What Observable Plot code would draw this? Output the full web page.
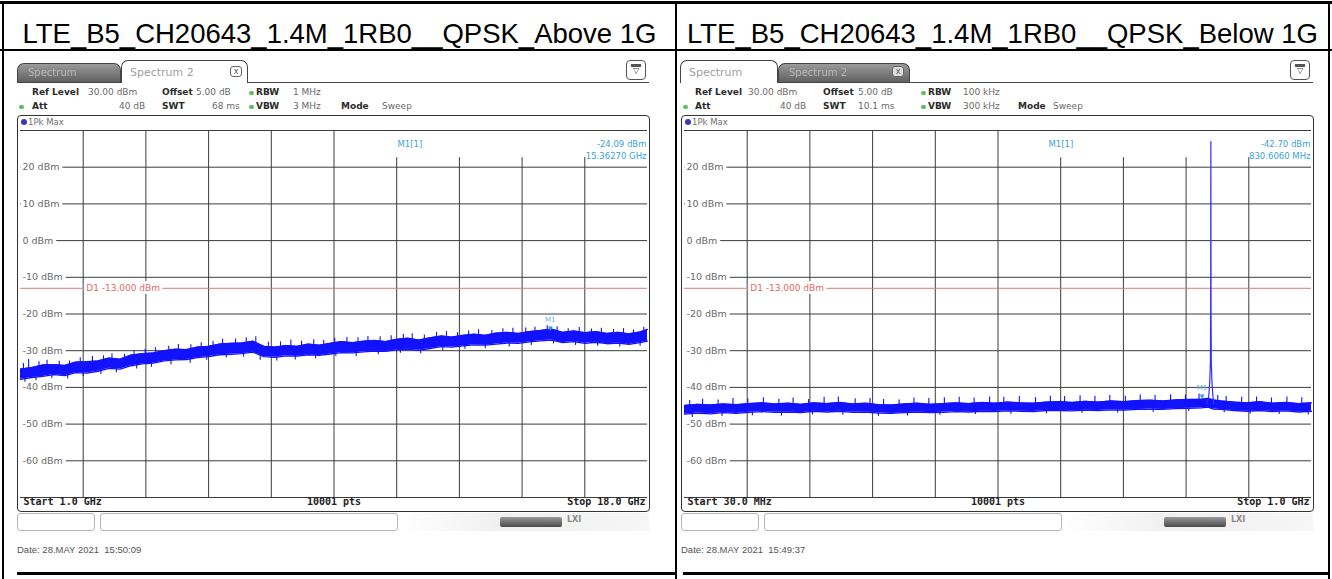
<!DOCTYPE html>
<html><head><meta charset="utf-8">
<script src="https://cdn.jsdelivr.net/npm/d3@7"></script>
<script src="https://cdn.jsdelivr.net/npm/@observablehq/plot@0.6"></script>
<style>
body{margin:0;background:#fff;}
#root{position:relative;width:1332px;height:579px;overflow:hidden;font-family:"DejaVu Sans",sans-serif;}
.a{position:absolute;white-space:nowrap;}
.title{position:absolute;top:16px;height:36px;line-height:36px;font-family:"Liberation Sans",Arial,sans-serif;font-size:27.5px;color:#000;text-align:center;white-space:nowrap;}
.info{font-size:9px;line-height:11px;color:#6a6a6a;white-space:nowrap;}
.info b{color:#2a2a2a;}
</style></head>
<body><div id="root"></div>
<script>
// ---- chart texts ----
const titles = ["LTE_B5_CH20643_1.4M_1RB0__QPSK_Above 1G", "LTE_B5_CH20643_1.4M_1RB0__QPSK_Below 1G"];
const dates = ["Date: 28.MAY 2021\u00a0\u00a015:50:09", "Date: 28.MAY 2021\u00a0\u00a015:49:37"];
const yTicks = [20, 10, 0, -10, -20, -30, -40, -50, -60];
const yGridLevels = [30, 20, 10, 0, -10, -20, -30, -40, -50, -60, -70];
const d1Level = -13;

// ---- left: Above 1G (GHz) ----
const leftDomain = [1.0, 18.0];
const leftXGrid = [2.7, 4.4, 6.1, 7.8, 9.5, 11.2, 12.9, 14.6, 16.3];
const leftAxisLabels = ["Start 1.0 GHz", "10001 pts", "Stop 18.0 GHz"];
const leftSettings = [["Ref Level","30.00 dBm","Offset","5.00 dB","RBW","1 MHz"],["Att","40 dB","SWT","68 ms","VBW","3 MHz","Mode","Sweep"]];
const leftFreq = [1.0,1.3,1.6,1.9,2.2,2.5,2.8,3.1,3.4,3.7,4.0,4.3,4.6,4.9,5.2,5.5,5.8,6.1,6.4,6.7,7.0,7.3,7.6,7.9,8.2,8.5,8.8,9.1,9.4,9.7,10.0,10.3,10.6,10.9,11.2,11.5,11.8,12.1,12.4,12.7,13.0,13.3,13.6,13.9,14.2,14.5,14.8,15.1,15.4,15.7,16.0,16.3,16.6,16.9,17.2,17.5,17.8,18.0];
const leftHi = [-35.0,-34.6,-33.9,-33.8,-34.0,-33.1,-33.0,-32.8,-32.0,-32.3,-31.2,-30.8,-30.6,-30.0,-29.6,-29.7,-29.0,-28.8,-28.2,-28.0,-27.9,-27.4,-28.8,-29.0,-28.6,-28.8,-28.2,-28.5,-28.0,-27.5,-27.8,-27.4,-27.2,-27.5,-26.9,-26.6,-27.1,-26.5,-26.0,-26.3,-25.8,-25.5,-25.8,-25.2,-25.0,-25.3,-24.8,-24.5,-24.1,-25.0,-24.6,-25.1,-24.8,-25.3,-25.0,-25.4,-24.9,-24.2];
const leftLo = [-37.8,-37.3,-37.0,-36.5,-36.8,-36.0,-36.1,-35.6,-34.8,-35.0,-34.1,-33.6,-33.4,-32.8,-32.5,-32.4,-31.9,-31.6,-31.1,-31.0,-30.8,-30.4,-31.6,-31.8,-31.4,-31.5,-31.1,-31.3,-30.9,-30.5,-30.6,-30.3,-30.1,-30.2,-29.8,-29.6,-29.9,-29.4,-28.9,-29.0,-28.7,-28.4,-28.5,-28.2,-27.9,-28.0,-27.6,-27.3,-27.1,-27.8,-27.5,-28.0,-27.7,-28.1,-27.9,-28.3,-27.8,-27.4];
const leftPeaks = [[1.08,-33.5],[1.22,-32.4],[1.5,-33.0],[1.72,-32.6],[2.05,-32.9],[2.33,-32.8],[2.62,-31.9],[2.95,-31.6],[3.25,-31.4],[3.48,-30.8],[3.82,-31.0],[4.08,-30.0],[4.38,-29.6],[4.66,-29.2],[5.02,-28.8],[5.28,-28.3],[5.62,-28.4],[5.9,-27.8],[6.22,-27.5],[6.48,-26.9],[6.83,-26.8],[7.12,-26.5],[7.38,-26.2],[7.72,-27.7],[8.05,-27.6],[8.33,-27.1],[8.62,-27.4],[8.95,-27.0],[9.22,-27.2],[9.52,-26.6],[9.85,-26.4],[10.15,-26.5],[10.42,-26.1],[10.75,-26.2],[11.05,-25.9],[11.38,-25.6],[11.62,-25.4],[11.95,-25.7],[12.28,-25.0],[12.55,-24.8],[12.85,-25.1],[13.15,-24.6],[13.42,-24.3],[13.78,-24.5],[14.08,-24.0],[14.35,-23.9],[14.7,-23.8],[14.95,-23.6],[15.28,-23.2],[15.55,-23.5],[15.85,-24.0],[16.15,-23.7],[16.48,-24.1],[16.75,-23.9],[17.08,-24.2],[17.35,-24.0],[17.62,-24.3],[17.9,-23.6]];
const leftDips = [[1.12,-38.6],[1.42,-38.2],[1.85,-37.6],[2.28,-37.7],[2.7,-37.0],[3.18,-36.5],[3.6,-36.0],[4.15,-35.0],[4.55,-34.5],[5.08,-33.8],[5.6,-33.4],[6.05,-32.6],[6.58,-32.0],[7.05,-31.8],[7.5,-32.6],[7.95,-32.8],[8.45,-32.5],[9.0,-32.2],[9.55,-31.6],[10.1,-31.6],[10.7,-31.1],[11.3,-30.7],[11.85,-30.8],[12.45,-30.0],[13.05,-29.6],[13.6,-29.5],[14.25,-29.0],[14.85,-28.6],[15.45,-28.2],[16.05,-28.6],[16.65,-28.8],[17.25,-29.0],[17.8,-28.8]];
const leftMarker = {name: "M1", freq: 15.3627, level: -24.09, unit: "GHz", digits: 5};

// ---- right: Below 1G (MHz) ----
const rightDomain = [30, 1000];
const rightXGrid = [127, 224, 321, 418, 515, 612, 709, 806, 903];
const rightAxisLabels = ["Start 30.0 MHz", "10001 pts", "Stop 1.0 GHz"];
const rightSettings = [["Ref Level","30.00 dBm","Offset","5.00 dB","RBW","100 kHz"],["Att","40 dB","SWT","10.1 ms","VBW","300 kHz","Mode","Sweep"]];
const rightFreq = [30,50,70,90,110,130,150,170,190,210,230,250,270,290,310,330,350,370,390,410,430,450,470,490,510,530,550,570,590,610,630,650,670,690,710,730,750,770,790,810,830,840,848,860,880,900,920,940,960,980,1000];
const rightHi = [-44.9,-44.6,-44.8,-44.5,-44.7,-44.4,-44.2,-44.5,-44.3,-44.6,-44.2,-44.4,-44.1,-44.5,-44.3,-44.7,-44.8,-44.5,-44.3,-44.6,-44.4,-44.2,-44.4,-44.1,-44.3,-44.0,-44.2,-44.3,-44.0,-43.9,-44.1,-43.8,-44.0,-43.7,-43.9,-43.6,-43.5,-43.7,-43.4,-43.3,-43.2,-43.0,-43.4,-43.7,-44.0,-44.2,-43.9,-44.3,-44.1,-44.4,-44.2];
const rightLo = [-47.3,-47.0,-47.2,-46.9,-47.1,-46.8,-46.6,-46.8,-46.7,-46.9,-46.5,-46.7,-46.5,-46.8,-46.7,-47.0,-47.1,-46.9,-46.7,-46.9,-46.8,-46.6,-46.7,-46.5,-46.6,-46.4,-46.5,-46.6,-46.3,-46.3,-46.4,-46.2,-46.3,-46.1,-46.2,-46.0,-45.9,-46.0,-45.8,-45.7,-45.6,-45.4,-45.9,-46.0,-46.3,-46.5,-46.3,-46.6,-46.4,-46.7,-46.5];
const rightPeaks = [[38,-43.6],[58,-43.2],[82,-43.4],[105,-43.0],[128,-43.1],[152,-42.8],[176,-43.2],[198,-42.9],[222,-43.3],[246,-42.7],[268,-42.6],[294,-43.1],[317,-43.0],[338,-43.3],[362,-43.4],[385,-42.9],[408,-43.0],[432,-42.8],[455,-42.7],[478,-42.9],[502,-42.6],[524,-42.7],[548,-42.5],[573,-42.8],[596,-42.4],[618,-42.5],[642,-42.3],[665,-42.4],[688,-42.2],[712,-42.4],[735,-42.1],[758,-42.2],[782,-42.0],[805,-42.1],[826,-41.8],[855,-42.2],[868,-42.5],[892,-42.7],[915,-42.6],[938,-42.9],[962,-42.6],[985,-42.8]];
const rightDips = [[42,-48.2],[88,-47.9],[135,-47.7],[180,-47.8],[228,-47.5],[275,-47.6],[330,-47.9],[375,-47.8],[425,-47.6],[480,-47.4],[535,-47.3],[590,-47.2],[645,-47.1],[700,-47.0],[755,-46.8],[810,-46.6],[865,-46.9],[905,-47.3],[950,-47.4],[995,-47.5]];
const rightCarrier = [[838,-44.5],[841,-42.5],[842.6,-38.5],[843.6,-33],[844.0,-20],[844.3,27],[844.6,-20],[845.0,-33],[846.0,-38.5],[847.5,-42.5],[849,-44.5]];
const rightMarker = {name: "M1", freq: 830.606, level: -42.70, unit: "MHz", digits: 4};

const root = document.getElementById("root");
function add(left, top, css, html) {
  const d = document.createElement("div");
  d.className = "a";
  d.style.cssText = `left:${left}px;top:${top}px;` + css;
  if (html !== undefined) d.innerHTML = html;
  root.appendChild(d);
  return d;
}

// table lines
add(0, 1, "width:1332px;height:3px;background:#000;");
add(0, 49, "width:1332px;height:2px;background:#000;");
add(2, 1, "width:2px;height:578px;background:#000;");
add(675, 1, "width:2px;height:578px;background:#000;");
add(1328, 1, "width:2px;height:578px;background:#000;");
add(17, 572, "width:660px;height:3px;background:#000;");
add(683, 572, "width:646px;height:3px;background:#000;");

function panel(p) {
  const X = p.x0;
  const t = document.createElement("div");
  t.className = "title"; t.style.left = p.cellLeft + "px"; t.style.width = p.cellWidth + "px";
  t.textContent = p.title; root.appendChild(t);

  // tab strip
  add(X + 17, 82, "width:632px;height:1px;background:#444;");
  for (const tab of p.tabs) {
    if (tab.active) {
      add(X + tab.left, 60, `width:${tab.width}px;height:23px;box-sizing:border-box;border:1px solid #444;border-bottom:none;border-radius:7px 7px 0 0;background:#fff;`,
        `<span style="position:absolute;left:8px;top:5px;font-size:11px;color:#a0a0a0;">${tab.label}</span>`);
    } else {
      add(X + tab.left, 63, `width:${tab.width}px;height:19px;box-sizing:border-box;border:1px solid #444;border-bottom:none;border-radius:7px 7px 0 0;background:linear-gradient(#9a9a9a,#606060);`,
        `<span style="position:absolute;left:10px;top:3px;font-size:10px;color:#b8b8b8;filter:blur(0.6px);">${tab.label}</span>`);
    }
    if (tab.close) {
      add(X + tab.left + tab.width - 18, 66, `width:12px;height:11px;box-sizing:border-box;border:1px solid #666;border-radius:3px;background:${tab.active ? "#fff" : "#ddd"};font-size:8px;line-height:9px;text-align:center;color:#555;`, "x");
    }
  }
  add(X + 626, 60, "width:20px;height:20px;box-sizing:border-box;border:1.5px solid #555;border-radius:4px;background:#fff;font-size:8px;line-height:8px;text-align:center;color:#444;",
    `<div style="margin:3px auto 0;width:10px;height:3px;background:#555;"></div>▽`);

  // settings rows
  const r = p.rows, s = p.settings;
  const put = (txt, x, y, b) => add(X + x, y, "", `<div class="info">${b ? "<b>" + txt + "</b>" : txt}</div>`);
  [[s[0][0], r.c1, 1], [s[0][1], r.v1], [s[0][2], r.c2, 1], [s[0][3], r.v2], [s[0][4], r.c3, 1], [s[0][5], r.v3]].forEach(([a, x, b]) => put(a, x, 87, b));
  [[s[1][0], r.c1, 1], [s[1][1], r.v1b], [s[1][2], r.c2, 1], [s[1][3], r.v2b], [s[1][4], r.c3, 1], [s[1][5], r.v3], [s[1][6], r.c4, 1], [s[1][7], r.v4]].forEach(([a, x, b]) => put(a, x, 101, b));
  const dot = "width:5px;height:4px;border-radius:2px;background:#5bbf5b;";
  add(X + r.dot, 91, dot); add(X + r.dot, 105, dot); add(X + 19, 105, dot);

  // plot
  const idx = d3.range(p.freq.length);
  const font = {fontFamily: "DejaVu Sans"};
  const blue = "#1212ff";
  const chart = Plot.plot({
    width: 631, height: 395, marginTop: 14, marginBottom: 14, marginLeft: 2, marginRight: 2,
    style: {background: "#fff", overflow: "visible"},
    x: {domain: p.domain, axis: null},
    y: {domain: [-70, 30], axis: null},
    marks: [
      Plot.ruleX(p.xGrid, {y1: d => d > p.boxFrom ? 22.6 : 30, y2: -70, stroke: "#3c3c3c", strokeWidth: 1}),
      Plot.ruleY(yGridLevels, {stroke: "#3c3c3c", strokeWidth: 1}),
      Plot.ruleY([d1Level], {stroke: "#e07a7a", strokeWidth: 1}),
      Plot.text(yTicks, {y: d => d, text: d => `${d} dBm`, frameAnchor: "left", textAnchor: "start", dx: 2, fill: "#6a6a6a", stroke: "#fff", strokeWidth: 7, paintOrder: "stroke", fontSize: 9.5, ...font}),
      Plot.text([d1Level], {x: p.xGrid[0], y: d => d, text: d => `D1 ${d.toFixed(3)} dBm`, textAnchor: "start", dx: 3, fill: "#e06a6a", stroke: "#fff", strokeWidth: 6, paintOrder: "stroke", fontSize: 9, ...font}),
      Plot.areaY(idx, {x: i => p.freq[i], y1: i => p.lo[i], y2: i => p.hi[i], fill: blue, curve: "linear"}),
      Plot.line(idx, {x: i => p.freq[i], y: i => p.hi[i], stroke: blue, strokeWidth: 1.3}),
      Plot.line(idx, {x: i => p.freq[i], y: i => p.lo[i], stroke: blue, strokeWidth: 1.3}),
      Plot.ruleX(p.peaks, {x: d => d[0], y1: d => d[1], y2: d => d[1] - 2.5, stroke: blue, strokeWidth: 1.1}),
      Plot.ruleX(p.dips, {x: d => d[0], y1: d => d[1], y2: d => d[1] + 2.5, stroke: blue, strokeWidth: 1.1}),
      p.carrier ? Plot.line(p.carrier, {x: d => d[0], y: d => d[1], stroke: "#3030ff", strokeWidth: 1.2}) : null,
      Plot.text([p.marker], {x: d => d.freq, y: d => d.level, text: () => "▼", lineAnchor: "bottom", dy: 2, fill: "#2b9fd8", fontSize: 8}),
      Plot.text([p.marker], {x: d => d.freq, y: d => d.level, text: d => d.name, lineAnchor: "bottom", dy: -7, fill: "#62b2de", fontSize: 7, ...font}),
      Plot.text([p.marker], {frameAnchor: "top-left", text: d => `${d.name}[1]`, textAnchor: "start", dx: p.mLabelDx, dy: 10, fill: "#3aa3d8", fontSize: 8.5, ...font}),
      Plot.text([p.marker], {frameAnchor: "top-right", text: d => `${d.level.toFixed(2)} dBm`, textAnchor: "end", dx: -1, dy: 10, fill: "#3aa3d8", fontSize: 8.5, ...font}),
      Plot.text([p.marker], {frameAnchor: "top-right", text: d => `${d.freq.toFixed(d.digits)} ${d.unit}`, textAnchor: "end", dx: -1, dy: 22, fill: "#3aa3d8", fontSize: 8.5, ...font}),
      Plot.text([p.axisLabels[0]], {frameAnchor: "bottom-left", textAnchor: "start", dx: 3, dy: 7, fill: "#222", fontWeight: "bold", fontSize: 10, fontFamily: "DejaVu Sans Mono"}),
      Plot.text([p.axisLabels[1]], {frameAnchor: "bottom", dy: 7, fill: "#222", fontWeight: "bold", fontSize: 10, fontFamily: "DejaVu Sans Mono"}),
      Plot.text([p.axisLabels[2]], {frameAnchor: "bottom-right", textAnchor: "end", dx: -2, dy: 7, fill: "#222", fontWeight: "bold", fontSize: 10, fontFamily: "DejaVu Sans Mono"})
    ].filter(Boolean)
  });
  const holder = add(X + 18, 116, "width:631px;height:395px;");
  holder.appendChild(chart);
  add(X + 17, 115, "width:633px;height:397px;box-sizing:border-box;border:1.6px solid #333;border-radius:4px;pointer-events:none;");
  add(X + 21, 119, "width:6px;height:6px;border-radius:3px;background:#3a3ab8;");
  add(X + 28, 116, "font-size:8.5px;line-height:12px;color:#707070;", "1Pk Max");

  // bottom controls
  add(X + 17, 513, "width:78px;height:18px;box-sizing:border-box;border:1px solid #b5b5b5;border-radius:3px;");
  add(X + 100, 513, "width:298px;height:18px;box-sizing:border-box;border:1px solid #b5b5b5;border-radius:3px;");
  add(X + 400, 513, "width:249px;height:18px;background:linear-gradient(90deg,#fff,#f0f0f0 40%,#f6f6f6);");
  add(X + 500, 517, "width:62px;height:10px;border-radius:2px;background:linear-gradient(#9a9a9a,#4a4a4a);");
  add(X + 567, 515, "font-size:8px;color:#888;font-weight:bold;", "LXI");
  add(X + 17, 544, "font-family:'Liberation Sans',Arial,sans-serif;font-size:9.5px;color:#555;", p.date);
}

panel({
  x0: 0, cellLeft: 4, cellWidth: 671, title: titles[0], date: dates[0],
  tabs: [{label: "Spectrum", active: false, left: 17, width: 104}, {label: "Spectrum 2", active: true, left: 121, width: 127, close: true}],
  rows: {c1: 32, v1: 88, v1b: 119, c2: 162, v2: 196, v2b: 212, dot: 249, c3: 256, v3: 293, c4: 341, v4: 382},
  settings: leftSettings,
  domain: leftDomain, xGrid: leftXGrid, boxFrom: 10, mLabelDx: 377,
  freq: leftFreq, hi: leftHi, lo: leftLo, peaks: leftPeaks, dips: leftDips, marker: leftMarker, axisLabels: leftAxisLabels
});
panel({
  x0: 664, cellLeft: 677, cellWidth: 651, title: titles[1], date: dates[1],
  tabs: [{label: "Spectrum", active: true, left: 16, width: 98}, {label: "Spectrum 2", active: false, left: 114, width: 132, close: true}],
  rows: {c1: 31, v1: 84, v1b: 116, c2: 159, v2: 194, v2b: 194, dot: 257, c3: 264, v3: 299, c4: 354, v4: 389},
  settings: rightSettings,
  domain: rightDomain, xGrid: rightXGrid, boxFrom: 560, mLabelDx: 364,
  freq: rightFreq, hi: rightHi, lo: rightLo, peaks: rightPeaks, dips: rightDips, carrier: rightCarrier, marker: rightMarker, axisLabels: rightAxisLabels
});
</script>
</body></html>
